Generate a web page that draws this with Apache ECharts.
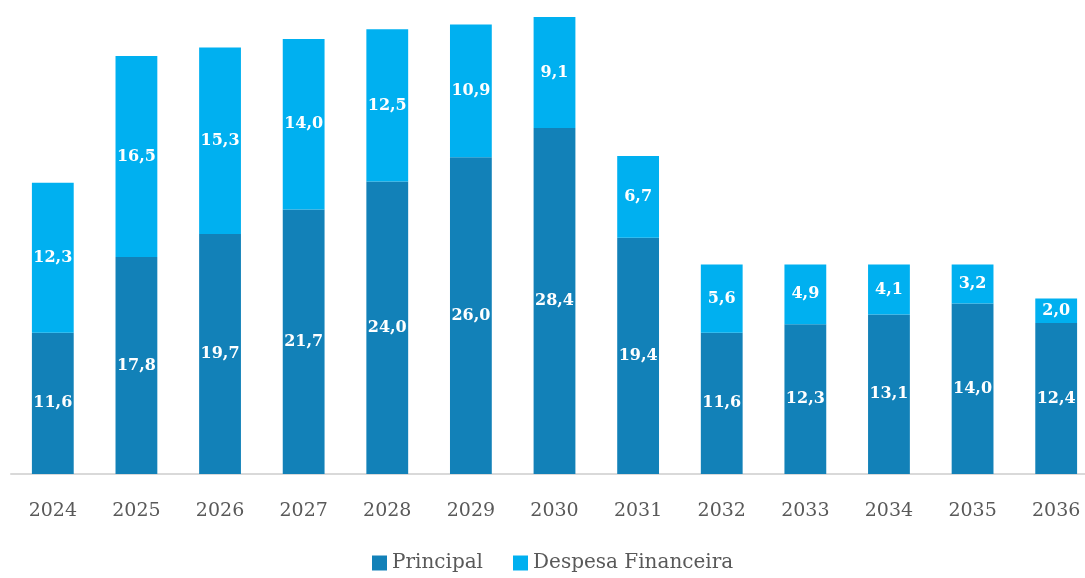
<!DOCTYPE html>
<html>
<head>
<meta charset="utf-8">
<script src="https://cdn.jsdelivr.net/npm/echarts@6/dist/echarts.min.js"></script>
<style>
  html, body { margin: 0; padding: 0; background: #fff; overflow: hidden; }
  #chart { width: 1098px; height: 578px; }
</style>
</head>
<body>
<div id="chart"></div>
<script>
const years = ['2024', '2025', '2026', '2027', '2028', '2029', '2030', '2031', '2032', '2033', '2034', '2035', '2036']
const principal = [11.6, 17.8, 19.7, 21.7, 24.0, 26.0, 28.4, 19.4, 11.6, 12.3, 13.1, 14.0, 12.4]
const despesa = [12.3, 16.5, 15.3, 14.0, 12.5, 10.9, 9.1, 6.7, 5.6, 4.9, 4.1, 3.2, 2.0]

const fontFamily = '"DejaVu Serif", serif'
const fmt = (p) => p.value.toFixed(1).replace('.', ',')

// chart box is a bit wider than the window so the last bar sits on the edge like the original
const chart = echarts.init(document.getElementById('chart'))
const label = {
  show: true,
  position: 'inside',
  color: '#FFFFFF',
  fontFamily: fontFamily,
  fontWeight: 'bold',
  fontSize: 16,
  formatter: fmt,
}
chart.setOption({
  animation: false,
  grid: {
    top: 11,
    left: 11,
    right: 0,
    height: 463,
  },
  legend: {
    top: 548,
    left: 367,
    itemWidth: 15,
    itemHeight: 15,
    itemGap: 30,
    icon: 'rect',
    textStyle: { color: '#595959', fontFamily: fontFamily, fontSize: 20 },
    data: ['Principal', 'Despesa Financeira'],
  },
  xAxis: {
    type: 'category',
    data: years,
    axisTick: { show: false },
    axisLine: { lineStyle: { color: '#D9D9D9', width: 2 } },
    axisLabel: { color: '#595959', fontFamily: fontFamily, fontSize: 19, margin: 28 },
  },
  yAxis: {
    type: 'value',
    min: 0,
    max: 38,
    show: false,
    splitLine: { show: false },
  },
  series: [
    {
      name: 'Principal',
      type: 'bar',
      stack: 'total',
      barWidth: '50%',
      data: principal,
      itemStyle: { color: '#1281B8' },
      label: label,
    },
    {
      name: 'Despesa Financeira',
      type: 'bar',
      stack: 'total',
      data: despesa,
      itemStyle: { color: '#00B0F0' },
      label: label,
    },
  ],
})
</script>
</body>
</html>
